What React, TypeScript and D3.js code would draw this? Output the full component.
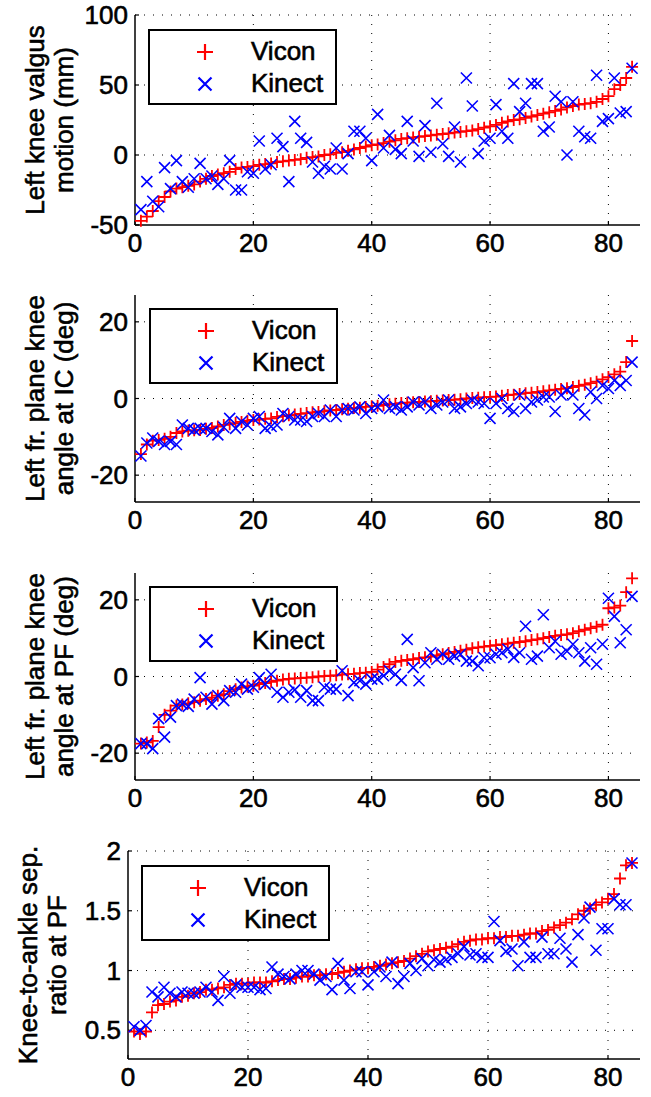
import React from 'react';
import * as d3 from 'd3';

// trial index 1..84 (sorted by Vicon value)
const trials = d3.range(1, 85);
const xTicks = [0, 20, 40, 60, 80];

const viconValgus = [
  -47, -44, -40, -33, -30, -26, -24, -23, -22, -21, -19, -17, -15, -14, -13, -12, -10, -9, -8.5, -8,
  -7, -6.5, -6, -5, -4.5, -4, -3.5, -3, -2, -1.5, -1, 0, 0.5, 1.5, 2, 3, 4, 5, 6, 7,
  7.5, 8.5, 9.5, 10.5, 11.5, 12, 12.5, 13, 13.5, 14, 14.5, 15, 15.5, 16, 16.5, 17, 17.5, 18.5, 19.5, 20.5,
  21.5, 23, 24, 25, 25.5, 26.5, 27.5, 28.5, 29.5, 30.5, 31.5, 32.5, 34, 35, 36, 36.5, 37, 38, 40, 42,
  47, 50, 55, 63,
];
const kinectValgus = [
  -39, -19, -33, -37, -9, -24, -4, -19, -23, -17, -6, -17, -15, -21, -17, -4, -25, -25, -12, -13,
  10, -10, -7, 12, 6, -19, 24, 12, 9, -5, -13, -8, -10, 5, -10, 1, 17, 17, 12, -4,
  29, 5, 14, 4, 1, 24, 10, -1, 21, 2, 37, 8, -1, 20, -5, 55, 35, 1, 10, 12,
  36, 17, 12, 51, 31, 37, 51, 51, 17, 20, 42, 38, 0, 38, 17, 13, 12, 57, 24, 26,
  55, 30, 31, 62,
];

const viconAngleIC = [
  -14.5, -12, -11, -10.8, -10.5, -10, -9, -8.6, -8.4, -8.3, -8.2, -7.9, -7.7, -7.3, -6.9, -6.7, -6.4, -6.1, -5.8, -5.6,
  -5.5, -5.3, -5.2, -4.8, -4.6, -4.4, -4.2, -4, -3.8, -3.6, -3.5, -3.3, -3.1, -3, -2.8, -2.7, -2.5, -2.4, -2.2, -2,
  -1.9, -1.7, -1.5, -1.4, -1.2, -1.1, -1, -0.9, -0.8, -0.7, -0.6, -0.5, -0.4, -0.3, -0.2, 0, 0.1, 0.2, 0.3, 0.4,
  0.5, 0.7, 0.9, 1, 1.2, 1.4, 1.5, 1.7, 1.9, 2.1, 2.3, 2.5, 2.7, 3, 3.3, 3.6, 4, 4.4, 5, 5.6,
  6.3, 7, 9.5, 15,
];
const kinectAngleIC = [
  -15, -11.6, -10.3, -11.2, -12, -11.2, -12, -6.9, -7.8, -8.2, -7.8, -7.8, -8.6, -9.5, -7.5, -5.2, -7.8, -6, -6.9, -5.2,
  -4.7, -7.8, -7.3, -6.9, -3.9, -4.7, -5.6, -5.6, -6, -4.7, -3.9, -4.7, -3, -4.7, -3, -2.6, -3, -2.2, -3.9, -2.6,
  -2.2, -0.4, -2.6, -2.2, -3, -2.2, -0.9, -1.7, -0.9, -2.6, -1.7, -0.9, -0.4, -2.6, -2.2, -1.3, -0.4, -0.9, -1.3, -5.2,
  -1.3, 0, -2.6, -3.4, 0.9, -2.6, -0.9, -0.4, 0.4, 0.4, -3.4, 0.9, 2.2, 0.9, -2.6, -4.3, 1.7, 0, 3.4, 2.6,
  4.7, 3.4, 4.7, 9.5,
];

const viconAnglePF = [
  -17.5, -17.2, -16.8, -13.2, -10, -8.9, -7.6, -7.3, -7, -6.7, -6.3, -5.9, -5.5, -5, -4.6, -3.8, -3.3, -2.9, -2.6, -2.4,
  -2, -1.7, -1.4, -1.1, -0.8, -0.6, -0.5, -0.4, -0.3, -0.2, 0, 0.1, 0.2, 0.3, 0.5, 0.6, 0.7, 0.9, 1, 1.2,
  1.8, 2.5, 3.2, 3.8, 4.1, 4.3, 4.5, 4.8, 5, 5.2, 5.5, 5.8, 6.1, 6.4, 6.7, 7, 7.4, 7.6, 7.8, 8,
  8.2, 8.4, 8.6, 8.8, 9, 9.2, 9.5, 9.7, 10, 10.3, 10.6, 10.8, 11, 11.3, 11.8, 12.2, 12.6, 13, 13.5, 17.8,
  18, 18.5, 22, 25.6,
];
const kinectAnglePF = [
  -17.5, -17.5, -18.8, -11, -15.8, -10.6, -7.6, -7.2, -7.8, -5.9, -0.3, -5.4, -7.2, -5, -6.3, -3.7, -4.1, -2, -3.3, -2.8,
  -0.3, -2, 0.6, -4.1, -5.4, -4.1, -3.5, -5.4, -3.7, -6.3, -6.3, -2.8, -3.3, -3.3, 1.5, -5, -1.6, -1.1, -2, -0.7,
  -0.7, 0.2, 1.5, 0.6, -1, 9.7, 2.3, -1.1, 3.6, 6.2, 4.5, 5.8, 4.5, 5.3, 5.8, 4, 4, 2.8, 4.9, 4.9,
  5.8, 6.2, 7.1, 5, 6.2, 13.1, 4.5, 5.3, 16.1, 7.5, 9.2, 5.8, 6.6, 8.4, 6.2, 4, 7.5, 3.2, 8.4, 20.4,
  15.7, 8.8, 12.2, 20.9,
];

const viconRatio = [
  0.49, 0.47, 0.49, 0.65, 0.71, 0.72, 0.74, 0.75, 0.78, 0.79, 0.81, 0.82, 0.84, 0.84, 0.85, 0.86, 0.88, 0.89, 0.89, 0.89,
  0.9, 0.9, 0.9, 0.91, 0.92, 0.93, 0.93, 0.94, 0.95, 0.95, 0.96, 0.96, 0.97, 0.97, 0.98, 0.99, 1, 1.01, 1.02, 1.02,
  1.03, 1.04, 1.05, 1.06, 1.07, 1.08, 1.1, 1.12, 1.14, 1.16, 1.17, 1.18, 1.19, 1.2, 1.22, 1.24, 1.25, 1.26, 1.26, 1.27,
  1.27, 1.28, 1.28, 1.29, 1.29, 1.3, 1.31, 1.31, 1.33, 1.34, 1.36, 1.38, 1.4, 1.43, 1.47, 1.5, 1.52, 1.55, 1.57, 1.6,
  1.64, 1.77, 1.88, 1.9,
];
const kinectRatio = [
  0.53, 0.5, 0.54, 0.82, 0.78, 0.86, 0.81, 0.78, 0.82, 0.81, 0.81, 0.82, 0.86, 0.82, 0.75, 0.95, 0.81, 0.88, 0.86, 0.86,
  0.86, 0.84, 0.85, 1.03, 0.97, 0.95, 0.93, 0.97, 1.0, 1.0, 0.97, 0.92, 0.95, 0.84, 1.06, 0.92, 0.85, 0.99, 0.99, 0.88,
  0.99, 1.03, 0.95, 1.07, 0.89, 0.95, 1.06, 1.0, 1.1, 1.04, 1.09, 1.07, 1.09, 1.11, 1.14, 1.2, 1.13, 1.14, 1.11, 1.11,
  1.41, 1.25, 1.16, 1.18, 1.04, 1.24, 1.11, 1.11, 1.28, 1.14, 1.14, 1.27, 1.18, 1.07, 1.3, 1.44, 1.53, 1.17, 1.35, 1.35,
  1.6, 1.55, 1.55, 1.9,
];

const legendLabels = ['Vicon', 'Kinect'];

const FONT = '"Liberation Sans", Arial, Helvetica, sans-serif';
const FS = 26;
const RED = '#ff0000';
const BLUE = '#0000ff';
// slight outline so the text reads as heavy as the MATLAB raster
const txt = { fontSize: FS, fontFamily: FONT, fill: '#000', stroke: '#000', strokeWidth: 0.6 };

const panels = [
  {
    vicon: viconValgus, kinect: kinectValgus,
    yDomain: [-50, 100], yTicks: [-50, 0, 50, 100],
    label: ['Left knee valgus', 'motion (mm)'],
    left: 135, top: 15, bottom: 225, labelX: [44, 73],
    legend: { x: 149, y: 30 },
  },
  {
    vicon: viconAngleIC, kinect: kinectAngleIC,
    yDomain: [-27, 27], yTicks: [-20, 0, 20],
    label: ['Left fr. plane knee', 'angle at IC (deg)'],
    left: 135, top: 295, bottom: 502, labelX: [44, 73],
    legend: { x: 150, y: 309 },
  },
  {
    vicon: viconAnglePF, kinect: kinectAnglePF,
    yDomain: [-27, 27], yTicks: [-20, 0, 20],
    label: ['Left fr. plane knee', 'angle at PF (deg)'],
    left: 135, top: 573, bottom: 780, labelX: [44, 73],
    legend: { x: 150, y: 587 },
  },
  {
    vicon: viconRatio, kinect: kinectRatio,
    yDomain: [0.26, 2], yTicks: [0.5, 1, 1.5, 2],
    label: ['Knee-to-ankle sep.', 'ratio at PF'],
    left: 128, top: 851, bottom: 1059, labelX: [37, 66],
    legend: { x: 142, y: 866 },
  },
];

const RIGHT = 638;

const plusPath = (x, y, s) => `M${x - s},${y}h${2 * s}M${x},${y - s}v${2 * s}`;
const crossPath = (x, y, s) => `M${x - s},${y - s}l${2 * s},${2 * s}M${x - s},${y + s}l${2 * s},${-2 * s}`;

const Panel = ({ p }) => {
  const x = d3.scaleLinear().domain([0, 85]).range([p.left, RIGHT]);
  const y = d3.scaleLinear().domain(p.yDomain).range([p.bottom, p.top]);
  const cy = (p.top + p.bottom) / 2;
  const lg = p.legend;

  return (
    <g>
      {/* dotted grid */}
      {xTicks.filter((t) => t > 0).map((t) => (
        <line key={'gx' + t} x1={x(t)} x2={x(t)} y1={p.top} y2={p.bottom}
          stroke="#000" strokeWidth={1} strokeDasharray="1,8" />
      ))}
      {p.yTicks.filter((t) => y(t) < p.bottom - 1).map((t) => (
        <line key={'gy' + t} x1={p.left} x2={RIGHT} y1={y(t)} y2={y(t)}
          stroke="#000" strokeWidth={1} strokeDasharray="1,8" />
      ))}

      {/* axes */}
      <line x1={p.left} x2={p.left} y1={p.top} y2={p.bottom} stroke="#000" strokeWidth={1.5} />
      <line x1={p.left} x2={RIGHT + 2} y1={p.bottom} y2={p.bottom} stroke="#000" strokeWidth={1.5} />
      {xTicks.map((t) => (
        <g key={'xt' + t}>
          <line x1={x(t)} x2={x(t)} y1={p.bottom} y2={p.bottom - 4} stroke="#000" strokeWidth={1.2} />
          <text x={x(t)} y={p.bottom + 27} textAnchor="middle" {...txt}>{t}</text>
        </g>
      ))}
      {p.yTicks.map((t) => (
        <g key={'yt' + t}>
          <line x1={p.left} x2={p.left + 4} y1={y(t)} y2={y(t)} stroke="#000" strokeWidth={1.2} />
          <text x={p.left - 7} y={y(t) + 9} textAnchor="end" {...txt}>{String(t)}</text>
        </g>
      ))}

      {/* y label */}
      {p.label.map((s, i) => (
        <text key={s} transform={`translate(${p.labelX[i]},${cy}) rotate(-90)`} textAnchor="middle" {...txt}>{s}</text>
      ))}

      {/* data */}
      {p.vicon.map((v, i) => (
        <path key={'v' + i} d={plusPath(x(trials[i]), y(v), 6)} stroke={RED} strokeWidth={1.8} fill="none" />
      ))}
      {p.kinect.map((v, i) => (
        <path key={'k' + i} d={crossPath(x(trials[i]), y(v), 5.5)} stroke={BLUE} strokeWidth={1.6} fill="none" />
      ))}

      {/* legend */}
      <rect x={lg.x} y={lg.y} width={187} height={74} fill="#fff" stroke="#000" strokeWidth={2} />
      <path d={plusPath(lg.x + 56, lg.y + 22, 8)} stroke={RED} strokeWidth={2.2} fill="none" />
      <path d={crossPath(lg.x + 56, lg.y + 54, 6.5)} stroke={BLUE} strokeWidth={2.2} fill="none" />
      <text x={lg.x + 102} y={lg.y + 30} {...txt}>{legendLabels[0]}</text>
      <text x={lg.x + 102} y={lg.y + 62} {...txt}>{legendLabels[1]}</text>
    </g>
  );
};

export default function App() {
  return (
    <svg width={651} height={1097} style={{ position: 'absolute', left: 0, top: 0, background: '#fff' }}>
      <rect width={651} height={1097} fill="#fff" />
      {panels.map((p, i) => <Panel key={i} p={p} />)}
    </svg>
  );
}
